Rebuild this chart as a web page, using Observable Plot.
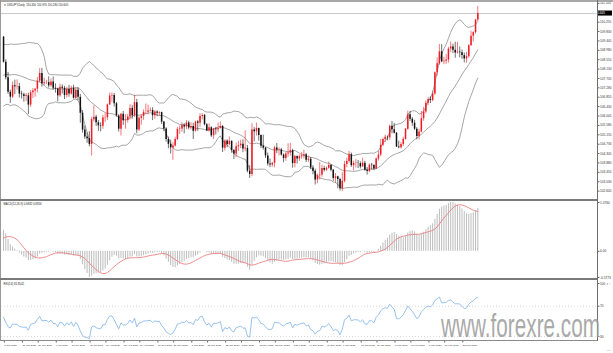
<!DOCTYPE html>
<html><head><meta charset="utf-8">
<script src="https://cdn.jsdelivr.net/npm/d3@7"></script>
<script src="https://cdn.jsdelivr.net/npm/@observablehq/plot@0.6"></script>
<style>
html,body{margin:0;padding:0;background:#fff;}
#chart{position:relative;width:613px;height:353px;overflow:hidden;background:#fff;}
#chart > svg{position:absolute;left:0;overflow:visible;}
.ln{position:absolute;}
</style></head><body><div id="chart"></div>
<script>
// ---- USDJPY daily, 8 Jun 2020 .. 31 Mar 2021 ----
const symbol = "USDJPY,Daily";
const opens = [109.58,108.44,107.74,107.08,106.86,107.38,107.33,107.34,107.00,106.97,106.89,106.92,106.50,107.06,107.14,107.22,107.58,
107.93,107.47,107.51,107.52,107.37,107.55,107.26,107.23,106.92,107.31,107.26,106.93,107.21,107.00,107.26,106.81,107.17,106.85,106.13,105.37,105.06,104.98,104.72,
105.84,105.95,105.70,105.56,105.54,105.92,105.93,106.51,106.91,106.93,106.56,106.01,105.41,106.09,105.79,105.80,105.96,106.35,106.01,106.61,105.37,
105.90,105.98,106.17,106.18,106.23,106.26,106.02,106.19,106.13,106.16,105.73,105.42,104.94,104.72,104.56,104.65,104.94,105.40,105.42,105.57,105.51,105.69,
105.46,105.53,105.32,105.73,105.68,105.98,106.03,105.61,105.33,105.47,105.11,105.42,105.38,105.44,105.53,104.55,104.87,104.71,104.86,104.44,104.29,104.61,
104.66,104.73,104.51,104.54,103.51,103.36,105.37,105.29,105.44,105.12,104.64,104.55,104.20,103.83,103.79,103.86,104.56,104.45,104.47,104.24,104.08,
104.29,104.33,104.44,103.85,104.17,104.06,104.16,104.20,104.25,104.00,104.05,103.65,103.50,103.11,103.30,103.33,103.63,103.55,103.64,103.77,103.55,103.18,
103.25,103.13,102.71,103.05,103.81,103.94,104.25,103.76,103.86,103.87,103.85,103.70,103.87,103.55,103.49,103.78,103.76,103.61,104.06,104.24,
104.68,104.94,105.04,105.02,105.54,105.38,105.23,104.60,104.57,104.71,104.95,105.41,106.06,105.86,105.68,105.41,105.08,105.28,105.88,106.19,
106.58,106.75,106.71,107.00,107.96,108.37,108.91,108.46,108.49,108.54,109.04,109.13,108.98,108.86,108.90,108.87,108.74,108.59,108.69,109.19,109.62,109.78,110.35];
const highs = [109.60,108.55,107.98,107.18,107.55,107.63,107.64,107.48,107.13,107.04,107.03,107.04,107.16,107.25,107.26,107.75,108.16,
108.16,107.72,107.62,107.78,107.68,107.77,107.46,107.27,107.45,107.42,107.35,107.30,107.39,107.36,107.40,107.29,107.30,106.98,106.25,105.55,105.24,105.30,105.95,
106.47,106.04,105.80,105.70,106.04,106.11,106.55,107.05,107.05,107.03,106.62,106.06,106.12,106.21,106.06,106.08,106.52,106.49,106.95,106.76,105.97,
106.06,106.28,106.55,106.50,106.37,106.38,106.25,106.24,106.20,106.18,105.76,105.48,105.05,104.91,104.80,105.04,105.49,105.55,105.70,105.66,105.80,105.77,
105.70,105.68,105.77,105.80,106.11,106.11,106.08,105.66,105.65,105.52,105.45,105.49,105.68,105.74,105.58,104.92,104.93,105.05,104.88,104.50,104.77,104.86,
104.91,104.93,105.34,104.67,103.76,105.66,105.48,105.68,105.46,105.15,105.14,104.58,104.33,104.06,103.91,104.63,104.76,104.56,104.54,104.29,104.36,
104.75,104.76,104.50,104.22,104.20,104.25,104.35,104.46,104.31,104.19,104.13,103.76,103.60,103.38,103.90,103.78,103.73,103.70,103.92,103.79,103.59,103.40,
103.28,103.19,103.44,103.95,104.10,104.40,104.33,103.96,104.04,103.99,103.93,104.09,103.96,103.68,103.84,103.86,103.80,104.11,104.41,104.94,
105.00,105.14,105.10,105.59,105.76,105.67,105.25,104.87,104.81,105.05,105.44,106.22,106.22,105.94,105.81,105.48,105.40,106.21,106.40,106.69,
106.85,106.88,107.13,108.00,108.64,109.24,109.24,108.67,108.79,109.12,109.36,109.26,109.35,109.34,109.13,109.00,108.86,108.89,109.24,109.85,109.82,110.38,110.97];
const lows = [108.40,107.64,106.98,106.58,106.80,106.97,107.18,106.82,106.77,106.63,106.66,106.07,106.40,106.80,106.86,107.05,107.50,
107.31,107.37,107.42,107.27,107.31,107.16,107.04,106.64,106.85,107.00,106.75,106.82,106.85,106.95,106.77,106.76,106.70,105.68,105.23,104.95,104.77,104.61,104.19,
105.73,105.53,105.31,105.29,105.40,105.72,105.80,106.48,106.62,106.41,105.95,105.28,105.10,105.58,105.41,105.69,105.83,105.86,105.93,105.20,105.31,
105.59,105.81,106.06,106.06,106.19,105.80,105.86,105.97,106.00,105.62,105.30,104.82,104.52,104.28,104.00,104.60,104.89,105.17,105.27,105.20,105.39,105.38,
105.37,104.94,105.28,105.31,105.50,105.83,105.56,105.30,105.28,105.03,104.95,105.15,105.25,105.41,104.35,104.42,104.56,104.66,104.32,104.04,104.12,104.40,
104.53,104.35,104.39,103.43,103.18,103.25,104.83,105.10,104.87,104.53,104.46,104.08,103.73,103.66,103.68,103.66,104.30,104.20,104.19,103.89,103.96,
104.14,104.19,103.64,103.66,103.83,103.95,104.05,104.06,103.90,103.90,103.58,103.34,102.88,102.94,103.11,103.23,103.47,103.50,103.59,103.48,103.05,102.96,
102.71,102.61,102.59,102.97,103.66,103.87,103.68,103.52,103.65,103.62,103.61,103.68,103.50,103.33,103.44,103.56,103.53,103.58,103.96,104.16,
104.62,104.80,104.88,104.91,105.20,105.19,104.58,104.52,104.51,104.63,104.91,105.36,105.76,105.54,105.35,104.93,104.92,105.24,105.77,106.10,
106.47,106.57,106.65,106.93,107.80,108.30,108.42,108.33,108.34,108.40,108.88,108.83,108.62,108.81,108.64,108.57,108.41,108.40,108.63,109.17,109.36,109.71,110.28];
const closes = [108.44,107.74,107.08,106.86,107.38,107.33,107.34,107.00,106.97,106.89,106.92,106.50,107.06,107.14,107.22,107.58,107.93,
107.47,107.51,107.52,107.37,107.55,107.26,107.23,106.92,107.31,107.26,106.93,107.21,107.00,107.26,106.81,107.17,106.85,106.13,105.37,105.06,104.98,104.72,105.84,
105.95,105.70,105.56,105.54,105.92,105.93,106.51,106.91,106.93,106.56,106.01,105.41,106.09,105.79,105.80,105.96,106.35,106.01,106.61,105.37,105.90,
105.98,106.17,106.18,106.23,106.26,106.02,106.19,106.13,106.16,105.73,105.42,104.94,104.72,104.56,104.65,104.94,105.40,105.42,105.57,105.51,105.69,105.46,
105.53,105.32,105.73,105.68,105.98,106.03,105.61,105.33,105.47,105.11,105.42,105.38,105.44,105.53,104.55,104.87,104.71,104.86,104.44,104.29,104.61,104.66,
104.73,104.51,104.54,103.51,103.36,105.37,105.29,105.44,105.12,104.64,104.55,104.20,103.83,103.79,103.86,104.56,104.45,104.47,104.24,104.08,104.29,
104.33,104.44,103.85,104.17,104.06,104.16,104.20,104.25,104.00,104.05,103.65,103.50,103.11,103.30,103.33,103.63,103.55,103.64,103.77,103.55,103.18,103.25,
103.13,102.71,103.05,103.81,103.94,104.25,103.76,103.86,103.87,103.85,103.70,103.87,103.55,103.49,103.78,103.76,103.61,104.06,104.24,104.68,
104.94,105.04,105.02,105.54,105.38,105.23,104.60,104.57,104.71,104.95,105.41,106.06,105.86,105.68,105.41,105.08,105.28,105.88,106.19,106.58,
106.75,106.71,107.00,107.96,108.37,108.91,108.46,108.49,108.54,109.04,109.13,108.98,108.86,108.90,108.87,108.74,108.59,108.69,109.19,109.62,109.78,110.35,110.645];
// closes of the bars before the visible window (indicator warm-up, late Apr .. 5 Jun 2020)
const warmupCloses = [107.24,106.89,106.59,107.17,106.91,106.71,106.55,106.09,106.24,106.63,107.72,107.13,107.00,107.27,107.09,107.32,107.72,107.56,
107.62,107.63,107.71,107.52,107.73,107.60,107.79,107.60,108.67,108.90,109.17,109.58];
const priceTicks = [111.105,110.255,109.830,109.405,108.980,108.555,108.130,107.705,107.280,106.855,106.430,106.005,105.580,105.155,104.730,104.305,103.880,103.455,103.030,102.605];
const dateTickBars = [0,8,15,23,30,38,45,53,60,68,75,83,90,98,105,113,120,128,135,143,150,158,165,173,180,188,195,203];
const dateTickLabels = ["8 Jun 2020","18 Jun 2020","29 Jun 2020","9 Jul 2020","20 Jul 2020","30 Jul 2020","10 Aug 2020","20 Aug 2020","31 Aug 2020","10 Sep 2020","21 Sep 2020","1 Oct 2020","12 Oct 2020","22 Oct 2020","2 Nov 2020","12 Nov 2020","23 Nov 2020","3 Dec 2020","14 Dec 2020","24 Dec 2020","6 Jan 2021","18 Jan 2021","27 Jan 2021","8 Feb 2021","17 Feb 2021","1 Mar 2021","10 Mar 2021","22 Mar 2021"];
const rsiTicks = [100,70,30];
const rsiLevels = [70,30];
const watermark = "www.forexre.com";

// ---- indicators derived from the closes ----
const all = warmupCloses.concat(closes);
const W = warmupCloses.length;
function ema(arr,n){const a=2/(n+1);let e=arr[0];return arr.map((v,i)=>(e=i===0?v:a*v+(1-a)*e));}
const e12 = ema(all,12), e26 = ema(all,26);
const macdAll = all.map((_,i)=>e12[i]-e26[i]);
const sigAll = macdAll.map((_,i)=>d3.mean(macdAll.slice(Math.max(0,i-8),i+1)));
function rsiCalc(arr,n){const out=arr.map(()=>NaN);let g=0,l=0;for(let i=1;i<=n;i++){const d=arr[i]-arr[i-1];if(d>0)g+=d;else l-=d;}g/=n;l/=n;out[n]=100-100/(1+g/l);
  for(let i=n+1;i<arr.length;i++){const d=arr[i]-arr[i-1];g=(g*(n-1)+(d>0?d:0))/n;l=(l*(n-1)+(d<0?-d:0))/n;out[i]=l===0?100:100-100/(1+g/l);}return out;}
const rsiAll = rsiCalc(all,14);

const bars = closes.map((c,i)=>({i,o:opens[i],h:highs[i],l:lows[i],c}));
const bands = closes.map((_,k)=>{const j=k+W;const win=all.slice(j-19,j+1);const m=d3.mean(win);const sd=Math.sqrt(d3.mean(win,v=>(v-m)**2));return {i:k,mid:m,up:m+2*sd,lo:m-2*sd};});
const macd = closes.map((_,k)=>({i:k,m:macdAll[k+W],s:sigAll[k+W]}));
const rsi = closes.map((_,k)=>({i:k,r:rsiAll[k+W]}));
const N = closes.length, last = bars[N-1];

const xDomain = [-0.9, 263];
const FF = "'Liberation Sans', Arial, sans-serif";
const font = {fontFamily:FF, fontSize:"3.2px", background:"transparent", overflow:"visible"};
const bull = bars.filter(d=>d.c>=d.o), bear = bars.filter(d=>d.c<d.o);
const RED = "#ee1c24", BLK = "#111";
const AX = {anchor:"right",tickSize:1.5,tickPadding:1,fill:"#333",stroke:"#666",fontSize:3.2};

const chart = document.getElementById("chart");
function place(svg,top){svg.style.top=top+"px";chart.appendChild(svg);return svg;}

// main price panel
const main = Plot.plot({
  width:613, height:199, marginLeft:1, marginRight:16, marginTop:3, marginBottom:1,
  x:{domain:xDomain, axis:null}, y:{domain:[102.27,111.10]}, style:font,
  marks:[
    Plot.ruleY([last.c],{stroke:"#c8c8c8",strokeWidth:1}),
    Plot.line(bands,{x:"i",y:"up",stroke:"#8e8e8e",strokeWidth:0.8}),
    Plot.line(bands,{x:"i",y:"mid",stroke:"#8e8e8e",strokeWidth:0.8}),
    Plot.line(bands,{x:"i",y:"lo",stroke:"#8e8e8e",strokeWidth:0.8}),
    Plot.ruleX(bull,{x:"i",y1:"l",y2:"h",stroke:RED,strokeWidth:0.6}),
    Plot.ruleX(bear,{x:"i",y1:"l",y2:"h",stroke:BLK,strokeWidth:0.6}),
    Plot.ruleX(bull,{x:"i",y1:"o",y2:"c",stroke:RED,strokeWidth:1.5}),
    Plot.ruleX(bear,{x:"i",y1:"o",y2:"c",stroke:BLK,strokeWidth:1.5}),
    Plot.axisY(priceTicks,{...AX,tickFormat:d=>d.toFixed(3)}),
    Plot.text([`\u25BC ${symbol}  ${last.o.toFixed(3)} ${last.h.toFixed(3)} ${last.l.toFixed(3)} ${last.c.toFixed(3)}`],{frameAnchor:"top-left",dx:2,dy:0,fill:"#222",fontSize:2.8})
  ]
});
place(main,0);
{ // current price label on the axis
  const py = main.scale("y").apply(last.c);
  const g = d3.select(main).append("g");
  g.append("rect").attr("x",597.5).attr("y",py-2.5).attr("width",14.5).attr("height",5).attr("fill","#000");
  g.append("text").attr("x",599.5).attr("y",py+1.1).attr("fill","#fff").attr("font-size",3.2).attr("font-family",FF).text(last.c.toFixed(3));
}

// MACD panel
const mext = d3.extent(macd.flatMap(d=>[d.m,d.s]));
const macdPlot = Plot.plot({
  width:613, height:78, marginLeft:1, marginRight:16, marginTop:2, marginBottom:1,
  x:{domain:xDomain, axis:null}, y:{domain:mext}, style:font,
  marks:[
    Plot.ruleX(macd,{x:"i",y1:0,y2:"m",stroke:"#b4b4b4",strokeWidth:0.9}),
    Plot.line(macd,{x:"i",y:"s",stroke:"#ec8080",strokeWidth:0.9}),
    Plot.axisY([mext[1],0,mext[0]],{...AX,tickFormat:d=>d===0?"0.00":d.toFixed(4)}),
    Plot.text([`MACD(12,26,9) ${macd[N-1].m.toFixed(4)} ${macd[N-1].s.toFixed(4)}`],{frameAnchor:"top-left",dx:2,dy:0.5,fill:"#222",fontSize:2.8})
  ]
});
place(macdPlot,200);

// RSI panel + time axis
const labelOf = new Map(dateTickBars.map((b,k)=>[b,dateTickLabels[k]]));
const rsiPlot = Plot.plot({
  width:613, height:74, marginLeft:1, marginRight:16, marginTop:3, marginBottom:13,
  x:{domain:xDomain}, y:{domain:[24.7,101.3]}, style:font,
  marks:[
    Plot.ruleY(rsiLevels,{stroke:"#c8c8c8",strokeWidth:0.7,strokeDasharray:"1,2"}),
    Plot.line(rsi,{x:"i",y:"r",stroke:"#7fb3e8",strokeWidth:0.8}),
    Plot.axisY(rsiTicks,{...AX}),
    Plot.axisX(dateTickBars,{anchor:"bottom",tickSize:2.5,tickPadding:1.5,textAnchor:"start",dx:0.8,tickFormat:d=>labelOf.get(d),fill:"#333",stroke:"#666",fontSize:2.5}),
    Plot.text([`RSI(14) ${rsi[N-1].r.toFixed(4)}`],{frameAnchor:"top-left",dx:2,dy:0.5,fill:"#222",fontSize:2.8})
  ]
});
place(rsiPlot,279);

// window frame lines (terminal chrome)
function line(l,t,w,h,c){const d=document.createElement("div");d.className="ln";Object.assign(d.style,{left:l+"px",top:t+"px",width:w+"px",height:h+"px",background:c});chart.appendChild(d);}
line(0,0,613,2,"#a8a8a8");
line(0,0,1,340,"#9a9a9a");
line(597,0,1,341,"#6e6e6e");
line(0,198.5,597,2,"#7a7a7a");
line(0,277.5,597,2,"#7a7a7a");
line(0,340,597,1,"#8a8a8a");

// watermark
const wm = document.createElementNS("http://www.w3.org/2000/svg","svg");
wm.setAttribute("width",613);wm.setAttribute("height",353);wm.style.top="0px";wm.style.pointerEvents="none";
wm.innerHTML = `<text x="441" y="337" font-family="${FF}" font-size="33" fill="#9e9e9e" fill-opacity="0.9" textLength="159" lengthAdjust="spacingAndGlyphs">${watermark}</text>`;
chart.appendChild(wm);
</script></body></html>
